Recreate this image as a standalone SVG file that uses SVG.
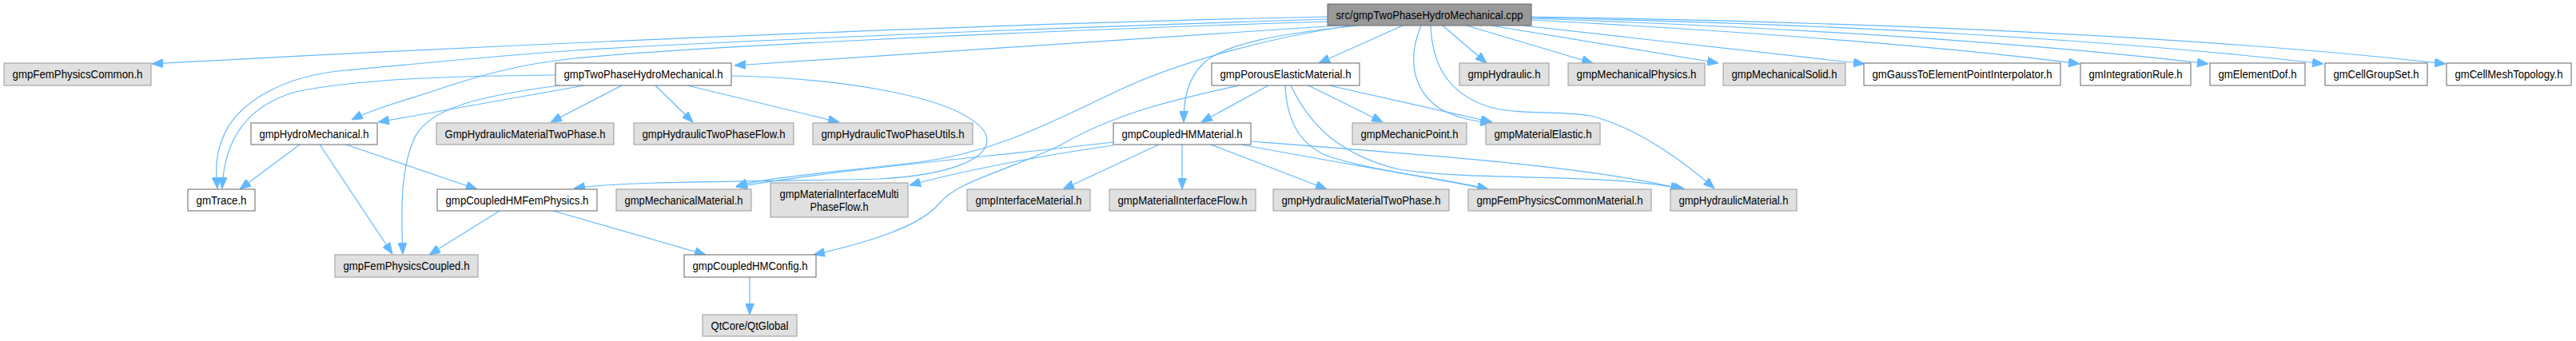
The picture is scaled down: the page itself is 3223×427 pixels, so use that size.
<svg xmlns="http://www.w3.org/2000/svg" width="3223" height="427" viewBox="0 0 3223 427">
<style>
.node rect{stroke-width:1}
.w rect{fill:#ffffff;stroke:#666666}
.g rect{fill:#e0e0e0;stroke:#999999}
.r rect{fill:#999999;stroke:#666666}
text{font-family:"Liberation Sans",Arial,Helvetica,sans-serif;font-size:14px;fill:#000000;text-anchor:middle}
.edges path{fill:none;stroke:#63b8ff;stroke-width:1.2;marker-end:url(#ah)}
</style>
<defs>
<marker id="ah" markerUnits="userSpaceOnUse" viewBox="0 0 14 11" markerWidth="14" markerHeight="11" refX="14" refY="5.5" orient="auto">
<path d="M0,0 L14,5.5 L0,11 z" fill="#63b8ff" stroke="#63b8ff" stroke-width="1"/>
</marker>
</defs>
<rect width="3223" height="427" fill="#ffffff"/>
<g class="edges">
<path d="M1661,21 C1300,28 700,52 190,80"/>
<path d="M1661,24 C1300,35 900,52 720,63 C620,70 520,80 433,88 C350,95 300,130 282,165 C268,195 270,215 272,236"/>
<path d="M1661,27 C1250,40 850,60 720,73 C650,80 600,95 560,108 C510,125 470,135 440,150"/>
<path d="M1675,32 C1400,50 1150,65 919,82"/>
<path d="M1690,32 C1600,45 1480,75 1400,113 C1320,150 1250,190 1150,203 C1050,215 960,222 921,233"/>
<path d="M1700,32 C1600,42 1530,55 1505,80 C1485,100 1481,125 1481,153"/>
<path d="M1755,32 L1650,79"/>
<path d="M1778,32 C1762,70 1765,110 1800,135 C1825,150 1850,152 1866,154"/>
<path d="M1790,32 C1792,80 1810,115 1860,133 C1900,145 1950,138 1990,145 C2050,160 2110,205 2145,236"/>
<path d="M1805,32 L1860,79"/>
<path d="M1835,32 L1993,79"/>
<path d="M1866,32 L2150,79"/>
<path d="M1905,32 L2333,80"/>
<path d="M1916,25 C2200,40 2450,60 2602,80"/>
<path d="M1916,23 C2250,35 2550,55 2763,80"/>
<path d="M1916,22 C2300,30 2650,50 2907,80"/>
<path d="M1916,21 C2350,28 2750,45 3060,80"/>
<path d="M695,94 C580,95 450,98 370,115 C300,135 280,185 278,236"/>
<path d="M700,107 C600,120 540,135 520,170 C500,210 502,270 504,318"/>
<path d="M731,107 L473,153"/>
<path d="M778,107 L689,153"/>
<path d="M820,107 L867,153"/>
<path d="M860,107 L1050,153"/>
<path d="M915,95 C1050,98 1200,120 1232,165 C1250,200 1180,220 1100,224 C950,228 780,226 718,236"/>
<path d="M375,181 L300,237"/>
<path d="M400,181 L491,318"/>
<path d="M433,181 L597,237"/>
<path d="M625,264 L537,319"/>
<path d="M692,264 L883,319"/>
<path d="M938,347 L938,394"/>
<path d="M1587,107 L1503,153"/>
<path d="M1637,107 L1730,153"/>
<path d="M1663,107 L1867,153"/>
<path d="M1608,107 C1610,150 1625,180 1660,195 C1720,215 1800,222 1862,237"/>
<path d="M1615,107 C1640,160 1680,195 1750,212 C1850,228 2000,215 2108,237"/>
<path d="M1550,107 C1470,125 1400,140 1330,180 C1260,215 1200,225 1175,255 C1150,285 1080,305 1018,319"/>
<path d="M1393,178 C1250,195 1050,212 921,234"/>
<path d="M1393,182 C1300,195 1200,215 1138,232"/>
<path d="M1450,181 L1330,237"/>
<path d="M1479,181 L1479,237"/>
<path d="M1515,181 L1660,237"/>
<path d="M1553,181 C1650,200 1780,220 1862,237"/>
<path d="M1566,177 C1800,195 2000,210 2104,237"/>
</g>
<g id="n_root" class="node r"><rect x="1661" y="5" width="255" height="27"/><text x="1788.5" y="24" textLength="234" lengthAdjust="spacingAndGlyphs">src/gmpTwoPhaseHydroMechanical.cpp</text></g>
<g id="n_femcommon" class="node g"><rect x="5" y="79" width="184" height="28"/><text x="97" y="98" textLength="163" lengthAdjust="spacingAndGlyphs">gmpFemPhysicsCommon.h</text></g>
<g id="n_twophase" class="node w"><rect x="695" y="79" width="220" height="28"/><text x="805" y="98" textLength="199" lengthAdjust="spacingAndGlyphs">gmpTwoPhaseHydroMechanical.h</text></g>
<g id="n_hydromech" class="node w"><rect x="314" y="154" width="158" height="27"/><text x="393" y="173" textLength="137" lengthAdjust="spacingAndGlyphs">gmpHydroMechanical.h</text></g>
<g id="n_hmtp" class="node g"><rect x="546" y="154" width="222" height="27"/><text x="657" y="173" textLength="201" lengthAdjust="spacingAndGlyphs">GmpHydraulicMaterialTwoPhase.h</text></g>
<g id="n_htpflow" class="node g"><rect x="793" y="154" width="200" height="27"/><text x="893" y="173" textLength="179" lengthAdjust="spacingAndGlyphs">gmpHydraulicTwoPhaseFlow.h</text></g>
<g id="n_htputils" class="node g"><rect x="1017" y="154" width="200" height="27"/><text x="1117" y="173" textLength="179" lengthAdjust="spacingAndGlyphs">gmpHydraulicTwoPhaseUtils.h</text></g>
<g id="n_porous" class="node w"><rect x="1516" y="79" width="185" height="28"/><text x="1608.5" y="98" textLength="164" lengthAdjust="spacingAndGlyphs">gmpPorousElasticMaterial.h</text></g>
<g id="n_chmmat" class="node w"><rect x="1393" y="154" width="172" height="27"/><text x="1479" y="173" textLength="151" lengthAdjust="spacingAndGlyphs">gmpCoupledHMMaterial.h</text></g>
<g id="n_hydraulic" class="node g"><rect x="1826" y="79" width="112" height="28"/><text x="1882" y="98" textLength="91" lengthAdjust="spacingAndGlyphs">gmpHydraulic.h</text></g>
<g id="n_mechphys" class="node g"><rect x="1962" y="79" width="171" height="28"/><text x="2047.5" y="98" textLength="150" lengthAdjust="spacingAndGlyphs">gmpMechanicalPhysics.h</text></g>
<g id="n_mechsolid" class="node g"><rect x="2156" y="79" width="153" height="28"/><text x="2232.5" y="98" textLength="132" lengthAdjust="spacingAndGlyphs">gmpMechanicalSolid.h</text></g>
<g id="n_gauss" class="node w"><rect x="2332" y="79" width="246" height="28"/><text x="2455" y="98" textLength="225" lengthAdjust="spacingAndGlyphs">gmGaussToElementPointInterpolator.h</text></g>
<g id="n_intrule" class="node w"><rect x="2603" y="79" width="138" height="28"/><text x="2672" y="98" textLength="117" lengthAdjust="spacingAndGlyphs">gmIntegrationRule.h</text></g>
<g id="n_eldof" class="node w"><rect x="2765" y="79" width="119" height="28"/><text x="2824.5" y="98" textLength="98" lengthAdjust="spacingAndGlyphs">gmElementDof.h</text></g>
<g id="n_cellgroup" class="node w"><rect x="2909" y="79" width="128" height="28"/><text x="2973" y="98" textLength="107" lengthAdjust="spacingAndGlyphs">gmCellGroupSet.h</text></g>
<g id="n_cellmesh" class="node w"><rect x="3061" y="79" width="156" height="28"/><text x="3139" y="98" textLength="135" lengthAdjust="spacingAndGlyphs">gmCellMeshTopology.h</text></g>
<g id="n_mechpoint" class="node g"><rect x="1692" y="154" width="143" height="27"/><text x="1763.5" y="173" textLength="122" lengthAdjust="spacingAndGlyphs">gmpMechanicPoint.h</text></g>
<g id="n_matelastic" class="node g"><rect x="1859" y="154" width="143" height="27"/><text x="1930.5" y="173" textLength="122" lengthAdjust="spacingAndGlyphs">gmpMaterialElastic.h</text></g>
<g id="n_trace" class="node w"><rect x="235" y="237" width="84" height="27"/><text x="277" y="256" textLength="63" lengthAdjust="spacingAndGlyphs">gmTrace.h</text></g>
<g id="n_chmfem" class="node w"><rect x="547" y="237" width="200" height="27"/><text x="647" y="256" textLength="179" lengthAdjust="spacingAndGlyphs">gmpCoupledHMFemPhysics.h</text></g>
<g id="n_mechmat" class="node g"><rect x="771" y="237" width="169" height="27"/><text x="855.5" y="256" textLength="148" lengthAdjust="spacingAndGlyphs">gmpMechanicalMaterial.h</text></g>
<g id="n_mimpf" class="node g"><rect x="964" y="229" width="172" height="43"/><text x="1050" y="248" textLength="149" lengthAdjust="spacingAndGlyphs">gmpMaterialInterfaceMulti</text><text x="1050" y="264" textLength="73" lengthAdjust="spacingAndGlyphs">PhaseFlow.h</text></g>
<g id="n_ifmat" class="node g"><rect x="1210" y="237" width="154" height="27"/><text x="1287" y="256" textLength="133" lengthAdjust="spacingAndGlyphs">gmpInterfaceMaterial.h</text></g>
<g id="n_mif" class="node g"><rect x="1388" y="237" width="183" height="27"/><text x="1479.5" y="256" textLength="162" lengthAdjust="spacingAndGlyphs">gmpMaterialInterfaceFlow.h</text></g>
<g id="n_hmtp2" class="node g"><rect x="1593" y="237" width="220" height="27"/><text x="1703" y="256" textLength="199" lengthAdjust="spacingAndGlyphs">gmpHydraulicMaterialTwoPhase.h</text></g>
<g id="n_femcommat" class="node g"><rect x="1837" y="237" width="229" height="27"/><text x="1951.5" y="256" textLength="208" lengthAdjust="spacingAndGlyphs">gmpFemPhysicsCommonMaterial.h</text></g>
<g id="n_hydmat" class="node g"><rect x="2090" y="237" width="158" height="27"/><text x="2169" y="256" textLength="137" lengthAdjust="spacingAndGlyphs">gmpHydraulicMaterial.h</text></g>
<g id="n_femcoupled" class="node g"><rect x="419" y="319" width="179" height="28"/><text x="508.5" y="338" textLength="158" lengthAdjust="spacingAndGlyphs">gmpFemPhysicsCoupled.h</text></g>
<g id="n_chmconfig" class="node w"><rect x="856" y="319" width="165" height="28"/><text x="938.5" y="338" textLength="144" lengthAdjust="spacingAndGlyphs">gmpCoupledHMConfig.h</text></g>
<g id="n_qtglobal" class="node g"><rect x="879" y="394" width="118" height="27"/><text x="938" y="413" textLength="97" lengthAdjust="spacingAndGlyphs">QtCore/QtGlobal</text></g>
</svg>
